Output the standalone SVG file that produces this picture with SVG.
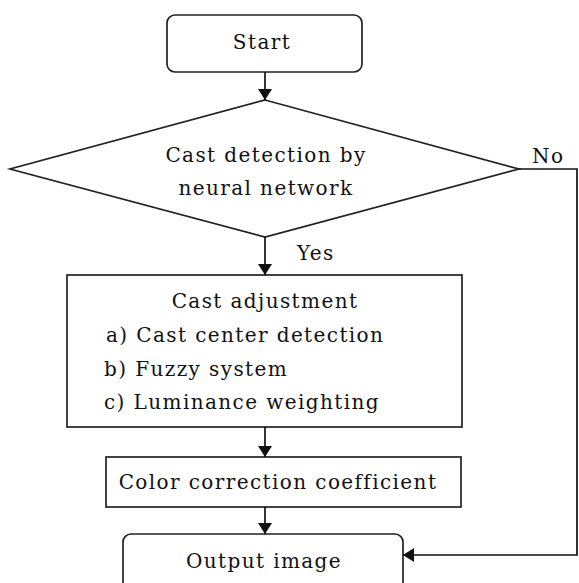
<svg xmlns="http://www.w3.org/2000/svg" width="579" height="583" viewBox="0 0 579 583">
  <defs>
    <marker id="arrow" viewBox="0 0 11 14" refX="11" refY="7" markerWidth="11" markerHeight="14" markerUnits="userSpaceOnUse" orient="auto">
      <path d="M0,0 L11,7 L0,14 Z" fill="#111"/>
    </marker>
  </defs>
  <style>
    .shape { fill: #fff; stroke: #222; stroke-width: 1.7; }
    .line { fill: none; stroke: #111; stroke-width: 1.7; }
    text { font-family: "DejaVu Serif", "Liberation Serif", serif; font-size: 20px; fill: #111; letter-spacing: 1.4px; }
    .c { text-anchor: middle; }
  </style>
  <rect width="579" height="583" fill="#fff"/>

  <g id="start">
    <rect class="shape" x="167" y="15" width="195" height="57" rx="8"/>
    <text class="c" x="262" y="49">Start</text>
  </g>

  <g id="detect">
    <polygon class="shape" points="265,100 519,169 265,237 10,169"/>
    <text class="c" x="266" y="162">Cast detection by</text>
    <text class="c" x="266" y="195">neural network</text>
  </g>

  <g id="adjust">
    <rect class="shape" x="67" y="275" width="395" height="152"/>
    <text class="c" x="265" y="308">Cast adjustment</text>
    <text x="106" y="342">a) Cast center detection</text>
    <text x="104" y="376">b) Fuzzy system</text>
    <text x="104" y="409">c) Luminance weighting</text>
  </g>

  <g id="coefficient">
    <rect class="shape" x="106" y="457" width="355" height="50"/>
    <text class="c" x="278" y="489">Color correction coefficient</text>
  </g>

  <g id="output">
    <rect class="shape" x="123" y="534" width="280" height="56" rx="8"/>
    <text class="c" x="264" y="568">Output image</text>
  </g>

  <g id="connectors">
    <line class="line" x1="265" y1="72" x2="265" y2="100" marker-end="url(#arrow)"/>
    <line class="line" x1="265" y1="237" x2="265" y2="275" marker-end="url(#arrow)"/>
    <line class="line" x1="265" y1="427" x2="265" y2="457" marker-end="url(#arrow)"/>
    <line class="line" x1="265" y1="507" x2="265" y2="534" marker-end="url(#arrow)"/>
    <polyline class="line" points="519,169 577,169 577,555 403,555" marker-end="url(#arrow)"/>
    <text x="297" y="260">Yes</text>
    <text x="532" y="163">No</text>
  </g>
</svg>
